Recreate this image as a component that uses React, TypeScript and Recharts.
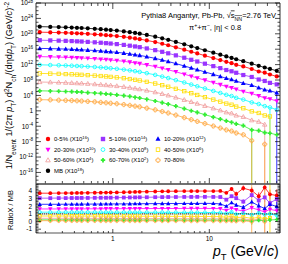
import React from 'react';
import { ComposedChart, Line, XAxis, YAxis, ErrorBar, ReferenceLine } from 'recharts';

const FONT = '"Liberation Sans", Arial, Helvetica, sans-serif';
const FRAME = '#333';

// pT bin centres (GeV/c)
const PT = [0.175, 0.225, 0.275, 0.325, 0.375, 0.425, 0.475, 0.55, 0.65, 0.75, 0.85, 0.95, 1.1, 1.3, 1.5, 1.7, 1.9, 2.25, 2.75, 3.25, 3.75, 4.5, 5.5, 6.5, 7.5, 9, 11, 13, 15, 17, 19, 22.5, 27.5, 32.5, 37.5, 42.5, 50];

// minimum-bias spectrum (unscaled)
const MB_SPECTRUM = [7.2e3, 6.3e3, 5.5e3, 4.8e3, 4.2e3, 3.6e3, 3.2e3, 2.6e3, 2.0e3, 1.55e3, 1.2e3, 950, 680, 420, 260, 165, 107, 50, 18, 6.6, 2.7, 0.79, 0.19, 0.056, 0.02, 5.4e-3, 1.26e-3, 3.8e-4, 1.38e-4, 5.6e-5, 2.5e-5, 7.6e-6, 1.8e-6, 5.0e-7, 1.8e-7, 7.6e-8, 2.5e-8];

const CENTRALITIES = ['0-5%', '5-10%', '10-20%', '20-30%', '30-40%', '40-50%', '50-60%', '60-70%', '70-80%'];
const SCALE_EXP = [16, 14, 12, 10, 8, 6, 4, 2, 0];
const MB_LABEL = 'MB';
const MB_SCALE_EXP = 18;
const COLORS = ['#ff0000', '#9933ff', '#0000ff', '#ff00ff', '#00ffff', '#ffdd00', '#f09a9a', '#33ee33', '#ffaa44'];
const SHAPES = ['circle', 'square', 'tri', 'itri', 'ocircle', 'osquare', 'otri', 'cross', 'ocross'];

// ratio X / MB, per centrality class
const RATIO_0_5 = [3.70, 3.70, 3.71, 3.72, 3.72, 3.73, 3.74, 3.75, 3.76, 3.77, 3.78, 3.79, 3.80, 3.82, 3.84, 3.86, 3.88, 3.90, 3.92, 3.94, 3.95, 3.96, 3.97, 3.97, 3.98, 3.98, 3.97, 3.99, 3.75, 4.25, 3.60, 4.35, 4.05, 3.30, 4.45, 3.55, 3.40];
const RATIO_5_10 = [3.05, 3.05, 3.06, 3.06, 3.07, 3.07, 3.08, 3.08, 3.09, 3.10, 3.10, 3.11, 3.12, 3.13, 3.14, 3.15, 3.16, 3.17, 3.18, 3.19, 3.20, 3.20, 3.21, 3.21, 3.22, 3.22, 3.21, 3.20, 2.85, 3.30, 3.05, 2.60, 3.45, 2.75, 3.15, 2.40, 2.95];
const RATIO_10_20 = [2.25, 2.25, 2.25, 2.26, 2.26, 2.26, 2.27, 2.27, 2.28, 2.28, 2.29, 2.29, 2.30, 2.30, 2.31, 2.32, 2.32, 2.33, 2.34, 2.34, 2.35, 2.35, 2.36, 2.36, 2.36, 2.37, 2.36, 2.30, 2.00, 2.45, 2.15, 1.85, 2.55, 2.05, 1.70, 2.25, 1.95];
const RATIO_20_30 = [1.64, 1.64, 1.64, 1.65, 1.65, 1.65, 1.65, 1.66, 1.66, 1.66, 1.67, 1.67, 1.67, 1.68, 1.68, 1.68, 1.69, 1.69, 1.70, 1.70, 1.70, 1.70, 1.71, 1.71, 1.71, 1.71, 1.70, 1.68, 1.45, 1.75, 1.55, 1.35, 1.80, 1.50, 1.25, 1.60, 1.40];
const RATIO_30_40 = [1.22, 1.22, 1.22, 1.22, 1.22, 1.22, 1.22, 1.22, 1.22, 1.21, 1.21, 1.21, 1.21, 1.21, 1.21, 1.20, 1.20, 1.20, 1.20, 1.20, 1.19, 1.19, 1.19, 1.18, 1.18, 1.18, 1.17, 1.16, 1.05, 1.25, 0.95, 1.10, 0.85, 1.15, 0.90, 1.00, 0.80];
const RATIO_40_50 = [0.72, 0.72, 0.72, 0.72, 0.72, 0.71, 0.71, 0.71, 0.71, 0.71, 0.70, 0.70, 0.70, 0.70, 0.69, 0.69, 0.69, 0.68, 0.68, 0.68, 0.67, 0.67, 0.67, 0.66, 0.66, 0.66, 0.65, 0.64, 0.55, 0.70, 0.50, 0.60, 0.40, 0.55, 0.35, 0.45, null];
const RATIO_50_60 = [0.42, 0.42, 0.42, 0.42, 0.41, 0.41, 0.41, 0.41, 0.41, 0.40, 0.40, 0.40, 0.40, 0.40, 0.39, 0.39, 0.39, 0.38, 0.38, 0.38, 0.38, 0.37, 0.37, 0.37, 0.37, 0.36, 0.36, 0.35, 0.30, 0.40, 0.25, 0.35, 0.20, 0.30, 0.15, null, null];
const RATIO_60_70 = [0.22, 0.22, 0.22, 0.22, 0.22, 0.22, 0.22, 0.21, 0.21, 0.21, 0.21, 0.21, 0.21, 0.21, 0.21, 0.20, 0.20, 0.20, 0.20, 0.20, 0.20, 0.20, 0.19, 0.19, 0.19, 0.19, 0.19, 0.18, 0.17, 0.19, 0.16, 0.18, 0.06, 0.15, 0.12, 0.20, 0.25];
const RATIO_70_80 = [0.11, 0.11, 0.11, 0.11, 0.11, 0.11, 0.11, 0.11, 0.11, 0.10, 0.10, 0.10, 0.10, 0.10, 0.10, 0.10, 0.10, 0.10, 0.10, 0.10, 0.10, 0.10, 0.09, 0.09, 0.09, 0.09, 0.09, 0.09, 0.08, 0.10, 0.07, 0.08, 0.010, null, 0.012, null, null];
const RATIOS: (number | null)[][] = [RATIO_0_5, RATIO_5_10, RATIO_10_20, RATIO_20_30, RATIO_30_40, RATIO_40_50, RATIO_50_60, RATIO_60_70, RATIO_70_80];

// ratio uncertainties for the last pT bins (from index TAIL_START on); [low, high] where asymmetric
const TAIL_START = 28;
const RATIO_ERR_TAIL: (number | number[])[][] = [
  [0.12, 0.22, 0.30, 0.35, 0.45, 0.50, 0.40, 0.60, 0.80],
  [0.12, 0.20, 0.25, 0.30, 0.40, 0.45, 0.60, 0.55, 0.70],
  [0.10, 0.18, 0.22, 0.28, 0.35, 0.40, 0.50, 0.45, 0.60],
  [0.08, 0.14, 0.18, 0.22, 0.30, 0.35, 0.40, 0.40, 0.50],
  [0.06, 0.10, 0.14, 0.18, 0.25, 0.30, 0.35, 0.60, 0.50],
  [0.05, 0.08, 0.10, 0.14, 0.20, 0.25, 0.30, [1.9, 4.4], 0],
  [0.04, 0.06, 0.08, 0.10, 0.14, 0.20, [1.6, 4.7], 0, 0],
  [0.03, 0.05, 0.06, 0.08, 0.50, 0.10, 0.15, 0.20, 0.30],
  [0.02, 0.03, 0.04, 0.05, [1.5, 4.85], 0, [1.5, 4.85], 0, 0],
];
// bins whose spectrum lower error reaches zero (drawn down to the axis floor)
const LOW_EDGE_AT_ZERO = [[], [], [36], [], [35], [35], [34], [32], [32, 34]];

// axes
const X_DOMAIN = [0.16, 54];
const X_MAJOR = [1, 10];
const X_MINOR = [0.2, 0.3, 0.4, 0.5, 0.6, 0.7, 0.8, 0.9, 2, 3, 4, 5, 6, 7, 8, 9, 20, 30, 40, 50];
const Y_MIN_EXP = -19;
const Y_MAX_EXP = 28;
const Y_LABEL_EXP = [-16, -12, -8, -4, 0, 4, 8, 12, 16, 20, 24, 28];
const R_DOMAIN = [-1.5, 4.9];
const R_MAJOR = [-1, 0, 1, 2, 3, 4];

const Y_MIN = 10 ** Y_MIN_EXP;
const Y_MAX = 10 ** Y_MAX_EXP;
const X_TICKS = [...X_MINOR, ...X_MAJOR].sort((a, b) => a - b);
const Y_TICKS: number[] = [];
for (let e = Y_MIN_EXP; e <= Y_MAX_EXP; e++) Y_TICKS.push(10 ** e);
const R_TICKS: number[] = [];
for (let j = Math.ceil(R_DOMAIN[0] * 5); j <= Math.floor(R_DOMAIN[1] * 5); j++) R_TICKS.push(j / 5);

const topData = PT.map((pt, i) => {
  const row: any = { pt, mb: MB_SPECTRUM[i] * 10 ** MB_SCALE_EXP };
  RATIOS.forEach((r, k) => {
    row['c' + k] = r[i] == null ? null : (r[i] as number) * MB_SPECTRUM[i] * 10 ** SCALE_EXP[k];
  });
  return row;
});

const ratioData = PT.map((pt, i) => {
  const row: any = { pt, mb: 1 };
  RATIOS.forEach((r, k) => {
    row['r' + k] = r[i];
    row['e' + k] = i >= TAIL_START && r[i] != null ? RATIO_ERR_TAIL[k][i - TAIL_START] : 0;
  });
  return row;
});

const longBars = LOW_EDGE_AT_ZERO.flatMap((idxs, k) =>
  idxs.map((i) => ({ k, pt: PT[i], y: topData[i]['c' + k] as number | null }))
).filter((b) => b.y != null);

function Marker({ shape, color, cx, cy, s }: any) {
  const sw = 0.8;
  switch (shape) {
    case 'circle':
      return <circle cx={cx} cy={cy} r={s} fill={color} />;
    case 'square':
      return <rect x={cx - s} y={cy - s} width={2 * s} height={2 * s} fill={color} />;
    case 'tri':
      return <polygon points={`${cx},${cy - s * 1.2} ${cx - s * 1.15},${cy + s * 0.85} ${cx + s * 1.15},${cy + s * 0.85}`} fill={color} />;
    case 'itri':
      return <polygon points={`${cx},${cy + s * 1.2} ${cx - s * 1.15},${cy - s * 0.85} ${cx + s * 1.15},${cy - s * 0.85}`} fill={color} />;
    case 'ocircle':
      return <circle cx={cx} cy={cy} r={s - 0.3} fill="none" stroke={color} strokeWidth={sw} />;
    case 'osquare':
      return <rect x={cx - s + 0.4} y={cy - s + 0.4} width={2 * s - 0.8} height={2 * s - 0.8} fill="none" stroke={color} strokeWidth={sw} />;
    case 'otri':
      return <polygon points={`${cx},${cy - s * 1.1} ${cx - s * 1.05},${cy + s * 0.75} ${cx + s * 1.05},${cy + s * 0.75}`} fill="none" stroke={color} strokeWidth={sw} />;
    case 'cross': {
      const a = s * 0.4;
      const pts = [[-a, -s], [a, -s], [a, -a], [s, -a], [s, a], [a, a], [a, s], [-a, s], [-a, a], [-s, a], [-s, -a], [-a, -a]];
      return <polygon points={pts.map(([x, y]) => `${cx + x},${cy + y}`).join(' ')} fill={color} />;
    }
    case 'ocross': {
      const a = s * 0.4;
      const pts = [[-a, -s], [a, -s], [a, -a], [s, -a], [s, a], [a, a], [a, s], [-a, s], [-a, a], [-s, a], [-s, -a], [-a, -a]];
      return <polygon points={pts.map(([x, y]) => `${cx + x},${cy + y}`).join(' ')} fill="none" stroke={color} strokeWidth={sw} />;
    }
    default:
      return <circle cx={cx} cy={cy} r={s} fill={color} />;
  }
}

const dotFor = (shape: string, color: string, s: number) => (p: any) => {
  if (p.cx == null || p.cy == null || p.value == null || !isFinite(p.cy) || !isFinite(p.cx)) return <g key={`n${p.index}`} />;
  return <Marker key={`m${p.index}`} shape={shape} color={color} cx={p.cx} cy={p.cy} s={s} />;
};

// tick renderers (ROOT style ticks inside the frame)
const xTickUp = (major: number, minor: number, label: boolean) => (p: any) => {
  const isMajor = X_MAJOR.includes(p.payload.value);
  return (
    <g>
      <line x1={p.x} x2={p.x} y1={p.y} y2={p.y - (isMajor ? major : minor)} stroke="#000" strokeWidth={0.7} />
      {label && isMajor && (
        <text x={p.x} y={p.y + 7.5} textAnchor="middle" fontSize={6.5} fontFamily={FONT} fill="#000">{p.payload.value}</text>
      )}
    </g>
  );
};
const xTickDown = (major: number, minor: number) => (p: any) => {
  const isMajor = X_MAJOR.includes(p.payload.value);
  return <line x1={p.x} x2={p.x} y1={p.y} y2={p.y + (isMajor ? major : minor)} stroke="#000" strokeWidth={0.7} />;
};
const yLogTick = (side: 'left' | 'right') => (p: any) => {
  const e = Math.round(Math.log10(p.payload.value));
  const lab = Y_LABEL_EXP.includes(e);
  const len = lab ? 5 : 2.5;
  const dir = side === 'left' ? 1 : -1;
  return (
    <g>
      <line x1={p.x} x2={p.x + dir * len} y1={p.y} y2={p.y} stroke="#000" strokeWidth={0.7} />
      {side === 'left' && lab && (
        <text x={p.x - 3} y={p.y + 2.3} textAnchor="end" fontSize={6.5} fontFamily={FONT} fill="#000">
          {e === 0 ? '1' : <>10<tspan dy={-2.6} fontSize={4.6}>{e}</tspan></>}
        </text>
      )}
    </g>
  );
};
const yLinTick = (side: 'left' | 'right') => (p: any) => {
  const v = p.payload.value;
  const lab = R_MAJOR.some((m) => Math.abs(m - v) < 1e-6);
  const len = lab ? 5 : 2.5;
  const dir = side === 'left' ? 1 : -1;
  return (
    <g>
      <line x1={p.x} x2={p.x + dir * len} y1={p.y} y2={p.y} stroke="#000" strokeWidth={0.7} />
      {side === 'left' && lab && (
        <text x={p.x - 4} y={p.y + 2.3} textAnchor="end" fontSize={6.5} fontFamily={FONT} fill="#000">{Math.round(v)}</text>
      )}
    </g>
  );
};

const frameLine = { stroke: FRAME, strokeWidth: 1 };

function TopPanel() {
  return (
    <ComposedChart width={288} height={187} data={topData} margin={{ top: 0, right: 0, bottom: 0, left: 0 }}>
      <XAxis dataKey="pt" type="number" scale="log" domain={X_DOMAIN} allowDataOverflow ticks={X_TICKS} interval={0}
        tickSize={0} tickMargin={0} tickLine={false} height={3} axisLine={frameLine} tick={xTickUp(6, 3, false)} />
      <XAxis xAxisId="top" orientation="top" dataKey="pt" type="number" scale="log" domain={X_DOMAIN} allowDataOverflow ticks={X_TICKS}
        interval={0} tickSize={0} tickMargin={0} tickLine={false} height={3} axisLine={frameLine} tick={xTickDown(6, 3)} />
      <YAxis type="number" scale="log" domain={[Y_MIN, Y_MAX]} allowDataOverflow ticks={Y_TICKS} interval={0}
        tickSize={0} tickMargin={0} tickLine={false} width={36} axisLine={frameLine} tick={yLogTick('left')} />
      <YAxis yAxisId="right" orientation="right" type="number" scale="log" domain={[Y_MIN, Y_MAX]} allowDataOverflow ticks={Y_TICKS}
        interval={0} tickSize={0} tickMargin={0} tickLine={false} width={8} axisLine={frameLine} tick={yLogTick('right')} />
      {longBars.map((b, j) => (
        <ReferenceLine key={`lb${j}`} segment={[{ x: b.pt, y: b.y as number }, { x: b.pt, y: Y_MIN }]}
          stroke={COLORS[b.k]} strokeWidth={0.8} ifOverflow="visible" />
      ))}
      <Line dataKey="mb" stroke="#000" strokeWidth={0.8} dot={dotFor('circle', '#000', 2.1)} isAnimationActive={false} connectNulls={false} />
      {CENTRALITIES.map((c, k) => (
        <Line key={c} dataKey={'c' + k} stroke={COLORS[k]} strokeWidth={0.8} dot={dotFor(SHAPES[k], COLORS[k], 2.1)}
          isAnimationActive={false} connectNulls={false} />
      ))}
    </ComposedChart>
  );
}

function RatioPanel() {
  return (
    <ComposedChart width={288} height={81} data={ratioData} margin={{ top: 0, right: 0, bottom: 0, left: 0 }}>
      <XAxis dataKey="pt" type="number" scale="log" domain={X_DOMAIN} allowDataOverflow ticks={X_TICKS} interval={0}
        tickSize={0} tickMargin={0} tickLine={false} height={31} axisLine={{ stroke: '#555', strokeWidth: 1.2 }} tick={xTickUp(4, 2, true)} />
      <XAxis xAxisId="top" orientation="top" dataKey="pt" type="number" scale="log" domain={X_DOMAIN} allowDataOverflow
        ticks={X_TICKS} interval={0} tickSize={0} tickMargin={0} tickLine={false} height={1} axisLine={{ stroke: '#666', strokeWidth: 1.6 }} tick={false} />
      <YAxis type="number" domain={R_DOMAIN} allowDataOverflow ticks={R_TICKS} interval={0}
        tickSize={0} tickMargin={0} tickLine={false} width={36} axisLine={{ stroke: '#555', strokeWidth: 1.2 }} tick={yLinTick('left')} />
      <YAxis yAxisId="right" orientation="right" type="number" domain={R_DOMAIN} allowDataOverflow ticks={R_TICKS}
        interval={0} tickSize={0} tickMargin={0} tickLine={false} width={8} axisLine={{ stroke: '#666', strokeWidth: 1.6 }} tick={yLinTick('right')} />
      {CENTRALITIES.map((c, k) => (
        <Line key={c} dataKey={'r' + k} stroke={COLORS[k]} strokeWidth={0.8} dot={dotFor(SHAPES[k], COLORS[k], 1.9)}
          isAnimationActive={false} connectNulls={false}>
          <ErrorBar dataKey={'e' + k} direction="y" width={0} stroke={COLORS[k]} strokeWidth={0.8} />
        </Line>
      ))}
      <Line dataKey="mb" stroke="#000" strokeWidth={1.3} strokeDasharray="1 1" dot={false} isAnimationActive={false} />
    </ComposedChart>
  );
}

const LEGEND_ITEMS = [
  ...CENTRALITIES.map((c, k) => ({ label: c, exp: SCALE_EXP[k], shape: SHAPES[k], color: COLORS[k] })),
  { label: MB_LABEL, exp: MB_SCALE_EXP, shape: 'circle', color: '#000' },
];

function Overlay() {
  const sub = { baselineShift: 'sub', fontSize: '70%' } as any;
  const sup = { baselineShift: 'super', fontSize: '70%' } as any;
  return (
    <svg width={288} height={264} style={{ position: 'absolute', left: 0, top: 0, pointerEvents: 'none' }} fontFamily={FONT}>
      <text transform="rotate(-90)" x={-2} y={12} textAnchor="end" fontSize={9.2} fill="#000">
        1/N<tspan {...sub}>event</tspan> 1/(2π <tspan fontStyle="italic">p</tspan><tspan {...sub}>T</tspan>) d<tspan {...sup}>2</tspan>N<tspan {...sub}>ch</tspan>/(dηd<tspan fontStyle="italic">p</tspan><tspan {...sub}>T</tspan>) (GeV/<tspan fontStyle="italic">c</tspan>)<tspan {...sup}>-2</tspan>
      </text>
      <text transform="rotate(-90)" x={-210} y={13} textAnchor="middle" fontSize={7.5} fill="#000">RatioX / MB</text>
      <text x={213} y={256} fontSize={14} fill="#000">
        <tspan fontStyle="italic">p</tspan><tspan baselineShift="-35%" fontSize={9.5}>T</tspan> (GeV/<tspan fontStyle="italic">c</tspan>)
      </text>
      <text x={276} y={17.5} textAnchor="end" fontSize={7.5} fill="#000">
        Pythia8 Angantyr, Pb-Pb, √<tspan textDecoration="overline">s<tspan {...sub}>NN</tspan></tspan>=2.76 TeV
      </text>
      <text x={215} y={29.5} textAnchor="middle" fontSize={7.5} fill="#000">
        π<tspan {...sup}>+</tspan>+π<tspan {...sup}>−</tspan>, |η| &lt; 0.8
      </text>
      {LEGEND_ITEMS.map((it, j) => {
        const col = j % 3;
        const row = Math.floor(j / 3);
        const mx = 48 + col * 55;
        const my = 139 + row * 10.6;
        return (
          <g key={it.label}>
            <Marker shape={it.shape} color={it.color} cx={mx} cy={my} s={2.2} />
            <text x={mx + 6} y={my + 2.1} fontSize={6} fill="#000">
              {it.label}
              {it.exp > 0 && <> (X10<tspan {...sup}>{it.exp}</tspan>)</>}
            </text>
          </g>
        );
      })}
    </svg>
  );
}

export default function App() {
  return (
    <div style={{ position: 'absolute', left: 0, top: 0, width: 288, height: 264, background: '#fff', overflow: 'hidden' }}>
      <div style={{ position: 'absolute', left: 0, top: 0 }}>
        <TopPanel />
      </div>
      <div style={{ position: 'absolute', left: 0, top: 183 }}>
        <RatioPanel />
      </div>
      <Overlay />
    </div>
  );
}
